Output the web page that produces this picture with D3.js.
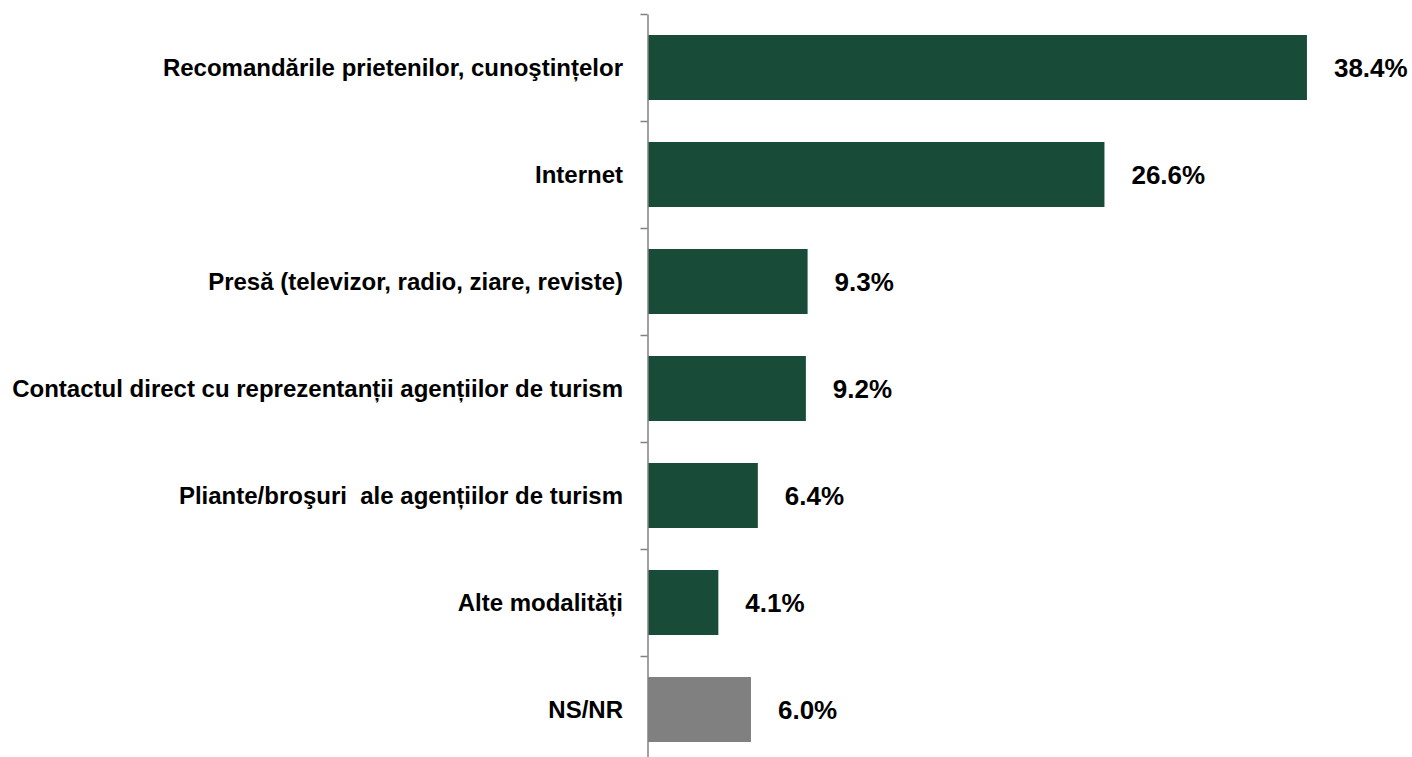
<!DOCTYPE html>
<html>
<head>
<meta charset="utf-8">
<script src="https://cdn.jsdelivr.net/npm/d3@7"></script>
<style>
  body { margin: 0; background: #fff; }
  svg { display: block; font-family: "Liberation Sans", Arial, sans-serif; font-weight: bold; }
</style>
</head>
<body>
<svg class="chart"></svg>
<script>
const width = 1412,
  height = 757;

const categories = [
  "Recomandările prietenilor, cunoştințelor",
  "Internet",
  "Presă (televizor, radio, ziare, reviste)",
  "Contactul direct cu reprezentanții agențiilor de turism",
  "Pliante/broşuri  ale agențiilor de turism",
  "Alte modalități",
  "NS/NR"
];
const values = [38.4, 26.6, 9.3, 9.2, 6.4, 4.1, 6.0];
const barColors = ["#194b39", "#194b39", "#194b39", "#194b39", "#194b39", "#194b39", "#808080"];

const axisX = 647.5;

let chart = d3.select(".chart")
  .attr("width", width)
  .attr("height", height);

// 7 bands of ~107px starting at y=14
let y = d3.scaleBand()
  .domain(categories)
  .range([14, 14 + 107 * categories.length])
  .paddingInner(0.3925)
  .paddingOuter(0.19625);

let x = d3.scaleLinear()
  .domain([0, 40])
  .range([648, 648 + 686.4]);

// band boundaries for the tick marks
let yEdge = d3.scaleLinear()
  .domain([0, categories.length])
  .range(y.range());

chart.selectAll(".bar")
  .data(values)
  .enter().append("rect")
  .attr("class", "bar")
  .attr("x", x(0))
  .attr("y", (d, i) => y(categories[i]))
  .attr("width", d => x(d) - x(0))
  .attr("height", y.bandwidth())
  .attr("fill", (d, i) => barColors[i]);

let yAxis = d3.axisLeft(yEdge)
  .tickValues(d3.range(categories.length + 1))
  .tickSize(7)
  .tickSizeOuter(0)
  .tickFormat("");

let axisG = chart.append("g")
  .attr("transform", `translate(${axisX},0)`)
  .call(yAxis);
axisG.select(".domain").attr("stroke", "#808080").attr("stroke-width", 1.5);
axisG.selectAll(".tick line").attr("stroke", "#808080").attr("stroke-width", 1.5);

// category labels
chart.selectAll(".cat")
  .data(categories)
  .enter().append("text")
  .attr("class", "cat")
  .attr("x", 623)
  .attr("y", d => y(d) + y.bandwidth() / 2 + 8.3)
  .attr("text-anchor", "end")
  .attr("font-size", "24px")
  .attr("fill", "#000")
  .style("white-space", "pre")
  .text(d => d);

// value labels
chart.selectAll(".val")
  .data(values)
  .enter().append("text")
  .attr("class", "val")
  .attr("x", d => x(d) + 27)
  .attr("y", (d, i) => y(categories[i]) + y.bandwidth() / 2 + 9.2)
  .attr("font-size", "26px")
  .attr("fill", "#000")
  .text(d => d.toFixed(1) + "%");
</script>
</body>
</html>
